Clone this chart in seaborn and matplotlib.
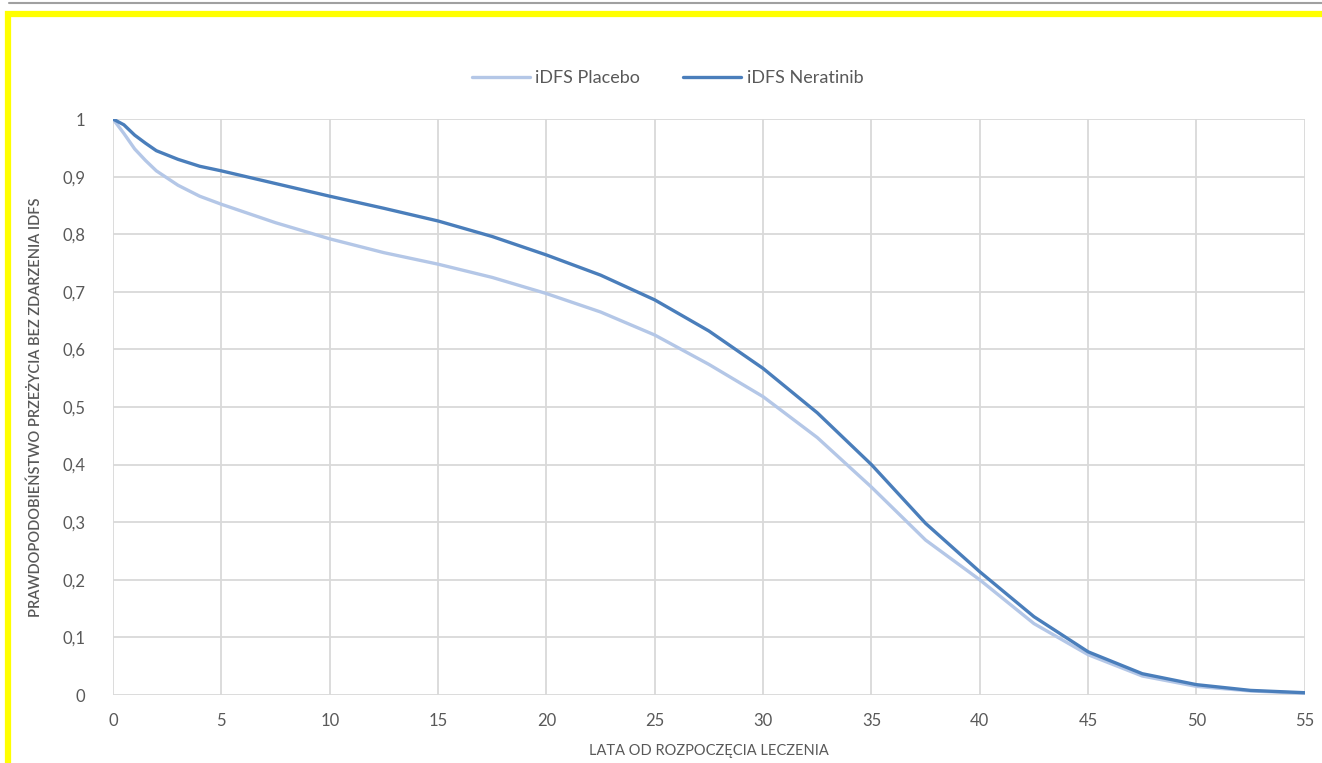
import matplotlib
matplotlib.use("Agg")
import matplotlib.pyplot as plt
import matplotlib.ticker as mticker
from matplotlib.lines import Line2D
from matplotlib.patches import Rectangle
import pandas as pd
import seaborn as sns

# values
years = [0, 0.5, 1, 1.5, 2, 3, 4, 5, 7.5, 10, 12.5, 15, 17.5, 20, 22.5, 25,
         27.5, 30, 32.5, 35, 37.5, 40, 42.5, 45, 47.5, 50, 52.5, 55]
placebo = [1.0, 0.975, 0.948, 0.928, 0.91, 0.885, 0.866, 0.852, 0.82, 0.792,
           0.768, 0.748, 0.725, 0.697, 0.665, 0.625, 0.574, 0.518, 0.447, 0.361,
           0.269, 0.2, 0.124, 0.07, 0.033, 0.015, 0.007, 0.003]
neratinib = [1.0, 0.99, 0.972, 0.958, 0.945, 0.93, 0.918, 0.91, 0.888, 0.866,
             0.845, 0.823, 0.796, 0.764, 0.729, 0.686, 0.632, 0.567, 0.49, 0.4,
             0.298, 0.214, 0.136, 0.075, 0.037, 0.018, 0.008, 0.004]
series_names = ["iDFS Placebo", "iDFS Neratinib"]
series_colors = ["#b4c7e7", "#4a7ebb"]

df = pd.DataFrame({"Lata": years * 2,
                   "Przezycie": placebo + neratinib,
                   "Grupa": [series_names[0]] * len(years) + [series_names[1]] * len(years)})

sns.set_theme(style="white")
plt.rcParams["font.family"] = ["Lato", "DejaVu Sans"]

fig = plt.figure(figsize=(13.22, 7.63), dpi=100)
ax = fig.add_axes([0.0855, 0.0891, 0.9015, 0.7549])

sns.lineplot(data=df, x="Lata", y="Przezycie", hue="Grupa",
             palette=dict(zip(series_names, series_colors)),
             linewidth=2.4, legend=False, ax=ax)

ax.set_xlim(0, 55)
ax.set_ylim(0, 1)
ax.set_xticks(range(0, 56, 5))
ax.set_yticks([i / 10 for i in range(11)])
ax.yaxis.set_major_formatter(mticker.FuncFormatter(
    lambda v, p: ("%g" % round(v, 1)).replace(".", ",")))
ax.grid(True, color="#d9d9d9", linewidth=1.3)
for s in ax.spines.values():
    s.set_visible(False)
ax.tick_params(axis="both", length=0, labelsize=12, colors="#595959")
ax.tick_params(axis="x", pad=13)
ax.tick_params(axis="y", pad=20)

ax.set_xlabel("LATA OD ROZPOCZĘCIA LECZENIA", fontsize=10.5, color="#595959", labelpad=11)
ax.set_ylabel("PRAWDOPODOBIEŃSTWO PRZEŻYCIA BEZ ZDARZENIA IDFS", fontsize=10.5,
              color="#595959", labelpad=14, fontweight="semibold")

handles = [Line2D([0], [0], color=c, linewidth=2.4) for c in series_colors]
fig.legend(handles, series_names, loc="center", bbox_to_anchor=(0.505, 1 - 78 / 763),
           ncol=2, frameon=False, fontsize=13, labelcolor="#595959",
           handlelength=3.2, handletextpad=0.3, columnspacing=2.4)

# yellow frame and gray rule at the top, as in the reference screenshot
fig.patches.append(Rectangle((8 / 1322, -0.05), 1.1, 1 - 14 / 763 + 0.05,
                             transform=fig.transFigure, fill=False,
                             edgecolor="#ffff00", linewidth=4.5))
fig.lines.append(Line2D([9 / 1322, 1], [1 - 3 / 763, 1 - 3 / 763],
                        transform=fig.transFigure, color="#a0a0a0", linewidth=1.5))

fig.savefig("out.png", dpi=100, facecolor="white")
